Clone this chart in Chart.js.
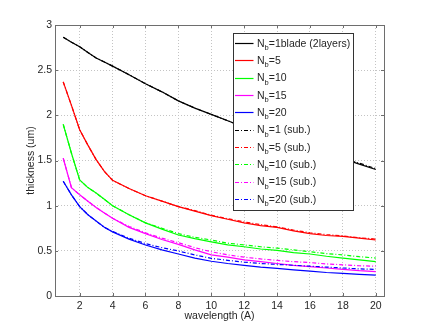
<!DOCTYPE html>
<html>
<head>
<meta charset="utf-8">
<script src="https://cdn.jsdelivr.net/npm/chart.js@4.4.1/dist/chart.umd.min.js"></script>
<style>
  html, body { margin: 0; padding: 0; background: #fff; }
</style>
</head>
<body>
<canvas id="chart" width="425" height="333"></canvas>
<script>
// wavelength (A)
const wavelength = [1, 1.5, 2, 2.5, 3, 3.5, 4, 5, 6, 7, 8, 9, 10, 11, 12, 13, 14, 15, 16, 17, 18, 19, 20];

// thickness (um)
const nb1    = [2.865, 2.81, 2.76, 2.695, 2.635, 2.59, 2.545, 2.45, 2.35, 2.26, 2.16, 2.08, 2.01, 1.94, 1.87, 1.81, 1.75, 1.69, 1.63, 1.57, 1.52, 1.46, 1.40];
const nb5    = [2.37, 2.11, 1.84, 1.67, 1.51, 1.38, 1.28, 1.19, 1.11, 1.05, 0.99, 0.94, 0.89, 0.85, 0.81, 0.78, 0.76, 0.72, 0.69, 0.67, 0.66, 0.64, 0.62];
const nb10   = [1.90, 1.58, 1.285, 1.20, 1.14, 1.07, 1.00, 0.90, 0.81, 0.74, 0.675, 0.635, 0.60, 0.565, 0.545, 0.52, 0.505, 0.48, 0.465, 0.44, 0.42, 0.40, 0.38];
const nb15   = [1.525, 1.20, 1.12, 1.05, 0.98, 0.92, 0.86, 0.76, 0.69, 0.625, 0.572, 0.51, 0.455, 0.43, 0.40, 0.38, 0.36, 0.34, 0.325, 0.31, 0.295, 0.28, 0.27];
const nb20   = [1.27, 1.12, 0.99, 0.90, 0.83, 0.76, 0.71, 0.63, 0.565, 0.51, 0.465, 0.42, 0.385, 0.36, 0.34, 0.32, 0.305, 0.29, 0.275, 0.26, 0.25, 0.24, 0.23];
const nb1s   = [2.865, 2.81, 2.76, 2.695, 2.635, 2.59, 2.545, 2.45, 2.35, 2.26, 2.16, 2.08, 2.01, 1.94, 1.87, 1.81, 1.75, 1.69, 1.63, 1.58, 1.52, 1.47, 1.41];
const nb5s   = [2.37, 2.11, 1.84, 1.67, 1.51, 1.38, 1.28, 1.19, 1.11, 1.05, 0.99, 0.945, 0.895, 0.855, 0.82, 0.79, 0.765, 0.73, 0.70, 0.68, 0.665, 0.645, 0.63];
const nb10s  = [1.90, 1.58, 1.285, 1.20, 1.14, 1.07, 1.00, 0.90, 0.81, 0.75, 0.69, 0.65, 0.62, 0.585, 0.565, 0.545, 0.53, 0.51, 0.49, 0.47, 0.455, 0.435, 0.42];
const nb15s  = [1.525, 1.20, 1.12, 1.05, 0.98, 0.92, 0.86, 0.77, 0.70, 0.64, 0.59, 0.535, 0.49, 0.455, 0.43, 0.41, 0.395, 0.38, 0.37, 0.355, 0.345, 0.335, 0.33];
const nb20s  = [1.27, 1.12, 0.99, 0.90, 0.83, 0.76, 0.715, 0.64, 0.58, 0.535, 0.498, 0.455, 0.417, 0.395, 0.375, 0.36, 0.35, 0.34, 0.33, 0.32, 0.31, 0.30, 0.295];

const series = [nb1, nb5, nb10, nb15, nb20, nb1s, nb5s, nb10s, nb15s, nb20s];
const labelTails = ["=1blade (2layers)", "=5", "=10", "=15", "=20",
                    "=1 (sub.)", "=5 (sub.)", "=10 (sub.)", "=15 (sub.)", "=20 (sub.)"];
const colors = ["#000000", "#ff0000", "#00ff00", "#ff00ff", "#0000ff",
                "#000000", "#ff0000", "#00ff00", "#ff00ff", "#0000ff"];

const xTicks = [2, 4, 6, 8, 10, 12, 14, 16, 18, 20];
const yTicks = [0, 0.5, 1, 1.5, 2, 2.5, 3];

const FONT = "'Liberation Sans', Arial, Helvetica, sans-serif";
const TEXT = "#262626";
const AXIS = "#6e6e6e";
const dashDot = [4, 2, 1, 2];

Chart.defaults.font.family = FONT;
Chart.defaults.font.size = 10.5;
Chart.defaults.color = TEXT;

const datasets = series.map((s, i) => ({
  label: "Nb" + labelTails[i],
  data: wavelength.map((x, k) => ({ x: x, y: s[k] })),
  borderColor: colors[i],
  borderWidth: 1.2,
  borderDash: i >= 5 ? dashDot : [],
  pointRadius: 0,
  fill: false,
  tension: 0,
  order: i >= 5 ? 0 : 1
}));

// frame, inward ticks and the matlab style legend
const matlabBits = {
  id: "matlabBits",
  afterDraw(chart) {
    const ctx = chart.ctx;
    const a = chart.chartArea;
    const xs = chart.scales.x, ys = chart.scales.y;
    ctx.save();
    ctx.strokeStyle = AXIS;
    ctx.lineWidth = 1;
    ctx.beginPath();
    xTicks.forEach(v => {
      const px = Math.round(xs.getPixelForValue(v)) + 0.5;
      ctx.moveTo(px, a.bottom); ctx.lineTo(px, a.bottom - 3);
      ctx.moveTo(px, a.top); ctx.lineTo(px, a.top + 3);
    });
    yTicks.forEach(v => {
      const py = Math.round(ys.getPixelForValue(v)) + 0.5;
      ctx.moveTo(a.left, py); ctx.lineTo(a.left + 3, py);
      ctx.moveTo(a.right, py); ctx.lineTo(a.right - 3, py);
    });
    ctx.stroke();
    ctx.strokeRect(Math.round(a.left) + 0.5, Math.round(a.top) + 0.5,
                   Math.round(a.right - a.left), Math.round(a.bottom - a.top));

    // legend box
    const bx = Math.round(a.right - 151) + 0.5, by = Math.round(a.top + 8) + 0.5;
    const bw = 120, bh = 177;
    ctx.fillStyle = "#fff";
    ctx.fillRect(bx, by, bw, bh);
    ctx.strokeStyle = "#333";
    ctx.strokeRect(bx, by, bw, bh);
    chart.data.datasets.forEach((ds, i) => {
      const cy = by + 9.5 + i * 17.35;
      ctx.strokeStyle = ds.borderColor;
      ctx.lineWidth = 1.2;
      ctx.setLineDash(ds.borderDash);
      ctx.beginPath();
      ctx.moveTo(bx + 1.5, Math.round(cy) + 0.5);
      ctx.lineTo(bx + 20, Math.round(cy) + 0.5);
      ctx.stroke();
      ctx.setLineDash([]);
      ctx.fillStyle = TEXT;
      ctx.textBaseline = "alphabetic";
      ctx.font = "10.5px " + FONT;
      let tx = bx + 23.5;
      const base = cy + 3.5;
      ctx.fillText("N", tx, base);
      tx += ctx.measureText("N").width;
      ctx.font = "7.5px " + FONT;
      ctx.fillText("b", tx, base + 3.5);
      tx += ctx.measureText("b").width;
      ctx.font = "10.5px " + FONT;
      ctx.fillText(labelTails[i], tx, base);
    });
    ctx.restore();
  }
};

new Chart(document.getElementById("chart"), {
  type: "line",
  data: { datasets },
  options: {
    responsive: false,
    animation: false,
    layout: { padding: { left: 0, top: 25, right: 41, bottom: 0 } },
    plugins: { legend: { display: false }, tooltip: { enabled: false } },
    scales: {
      x: {
        type: "linear",
        min: 0.5,
        max: 20.5,
        afterBuildTicks: s => { s.ticks = xTicks.map(v => ({ value: v })); },
        afterFit: s => { s.height = 37; },
        ticks: { padding: 4, maxRotation: 0, autoSkip: false, callback: v => String(v) },
        grid: { color: "#c4c4c4", drawTicks: false },
        border: { display: false, dash: [1, 2] },
        title: { display: true, text: "wavelength (A)", padding: { top: 0, bottom: 11 } }
      },
      y: {
        type: "linear",
        min: 0,
        max: 3,
        afterBuildTicks: s => { s.ticks = yTicks.map(v => ({ value: v })); },
        afterFit: s => { s.width = 55; },
        ticks: { padding: 3, callback: v => String(v) },
        grid: { color: "#c4c4c4", drawTicks: false },
        border: { display: false, dash: [1, 2] },
        title: { display: true, text: "thickness (um)", padding: { top: 25, bottom: 0 } }
      }
    }
  },
  plugins: [matlabBits]
});
</script>
</body>
</html>
